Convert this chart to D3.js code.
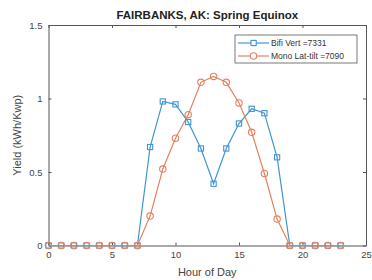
<!DOCTYPE html>
<html>
<head>
<meta charset="utf-8">
<script src="https://d3js.org/d3.v7.min.js"></script>
<style>
  body { margin: 0; background: #fff; }
  svg { font-family: "Liberation Sans", Arial, sans-serif; }
</style>
</head>
<body>
<svg id="chart" width="372" height="280"></svg>
<script>
// Hour of day and yields
const hours = d3.range(0, 24);
const bifiVert = [0, 0, 0, 0, 0, 0, 0, 0, 0.67, 0.98, 0.96, 0.84, 0.66, 0.42, 0.66, 0.83, 0.93, 0.90, 0.60, 0, 0, 0, 0, 0];
const monoLatTilt = [0, 0, 0, 0, 0, 0, 0, 0, 0.20, 0.52, 0.73, 0.89, 1.11, 1.15, 1.11, 0.97, 0.77, 0.49, 0.18, 0, 0, 0, 0, 0];
const seriesNames = ["Bifi Vert =7331", "Mono Lat-tilt =7090"];
const xTicks = [0, 5, 10, 15, 20, 25];
const yTicks = [0, 0.5, 1, 1.5];

const svg = d3.select("#chart");
const margin = { top: 25, right: 6, bottom: 34.5, left: 48.5 };
const width = 372 - margin.left - margin.right;
const height = 280 - margin.top - margin.bottom;

const x = d3.scaleLinear().domain([0, 25]).range([0, width]);
const y = d3.scaleLinear().domain([0, 1.5]).range([height, 0]);

const g = svg.append("g").attr("transform", `translate(${margin.left},${margin.top})`);

const axisColor = "#555";

// Axes with inward ticks (box style)
const xAxis = d3.axisBottom(x).tickValues(xTicks).tickSizeInner(-3).tickSizeOuter(0).tickPadding(6);
const yAxis = d3.axisLeft(y).tickValues(yTicks).tickSizeInner(-3).tickSizeOuter(0).tickPadding(6)
  .tickFormat(d => d === 0 ? "0" : d3.format("")(d));

const gx = g.append("g").attr("transform", `translate(0,${height})`).call(xAxis);
const gy = g.append("g").call(yAxis);
const gxTop = g.append("g").call(d3.axisTop(x).tickValues(xTicks).tickSizeInner(-3).tickSizeOuter(0).tickFormat(""));
const gyRight = g.append("g").attr("transform", `translate(${width},0)`)
  .call(d3.axisRight(y).tickValues(yTicks).tickSizeInner(-3).tickSizeOuter(0).tickFormat(""));

[gx, gy, gxTop, gyRight].forEach(a => {
  a.select(".domain").attr("stroke", axisColor).attr("stroke-width", 1);
  a.selectAll(".tick line").attr("stroke", axisColor);
  a.selectAll(".tick text").attr("fill", "#444").style("font-size", "9.5px");
});

const colors = ["#3f95d2", "#e5825e"];
const datasets = [bifiVert, monoLatTilt];

const line = d3.line().x((d, i) => x(hours[i])).y(d => y(d));

// orange drawn on top, like the reference
datasets.forEach((vals, k) => {
  g.append("path")
    .datum(vals)
    .attr("fill", "none")
    .attr("stroke", colors[k])
    .attr("stroke-width", 1.2)
    .attr("d", line);
});

datasets.forEach((vals, k) => {
  const pts = g.append("g");
  if (k === 0) {
    pts.selectAll("rect").data(vals).enter().append("rect")
      .attr("x", (d, i) => x(hours[i]) - 2.6)
      .attr("y", d => y(d) - 2.6)
      .attr("width", 5.2).attr("height", 5.2)
      .attr("fill", "none").attr("stroke", colors[k]).attr("stroke-width", 1.1);
  } else {
    pts.selectAll("circle").data(vals).enter().append("circle")
      .attr("cx", (d, i) => x(hours[i]))
      .attr("cy", d => y(d))
      .attr("r", 3.2)
      .attr("fill", "none").attr("stroke", colors[k]).attr("stroke-width", 1.1);
  }
});

// Title
svg.append("text")
  .attr("x", margin.left + width / 2).attr("y", 19)
  .attr("text-anchor", "middle")
  .style("font-size", "11.5px").style("font-weight", "bold").attr("fill", "#222")
  .text("FAIRBANKS, AK: Spring Equinox");

// Axis labels
svg.append("text")
  .attr("x", margin.left + width / 2).attr("y", 276)
  .attr("text-anchor", "middle")
  .style("font-size", "11px").attr("fill", "#444")
  .text("Hour of Day");

svg.append("text")
  .attr("transform", `translate(21,${margin.top + height / 2}) rotate(-90)`)
  .attr("text-anchor", "middle")
  .style("font-size", "11px").attr("fill", "#444")
  .text("Yield (kWh/Kwp)");

// Legend
const legend = svg.append("g").attr("transform", "translate(235,35)");
legend.append("rect")
  .attr("width", 122).attr("height", 28)
  .attr("fill", "#fff").attr("stroke", axisColor).attr("stroke-width", 0.8);
seriesNames.forEach((name, k) => {
  const row = legend.append("g").attr("transform", `translate(0,${8 + k * 13})`);
  row.append("line").attr("x1", 3).attr("x2", 34).attr("y1", 0).attr("y2", 0)
    .attr("stroke", colors[k]).attr("stroke-width", 1.2);
  if (k === 0) {
    row.append("rect").attr("x", 16).attr("y", -2.6).attr("width", 5.2).attr("height", 5.2)
      .attr("fill", "#fff").attr("stroke", colors[k]).attr("stroke-width", 1.1);
  } else {
    row.append("circle").attr("cx", 18.5).attr("cy", 0).attr("r", 3.2)
      .attr("fill", "#fff").attr("stroke", colors[k]).attr("stroke-width", 1.1);
  }
  row.append("text").attr("x", 36).attr("y", 3)
    .style("font-size", "8.5px").attr("fill", "#333")
    .text(name);
});
</script>
</body>
</html>
